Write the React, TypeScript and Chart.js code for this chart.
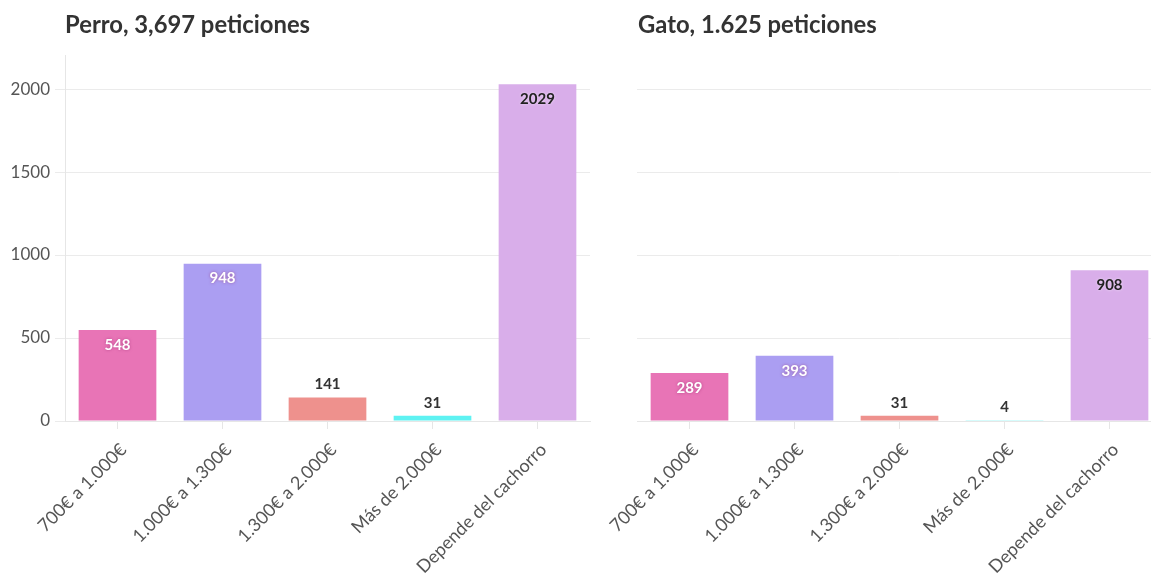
import React, { useEffect, useRef } from "react";
import { Chart, registerables } from "chart.js";

Chart.register(...registerables);

const categories = ["700€ a 1.000€", "1.000€ a 1.300€", "1.300€ a 2.000€", "Más de 2.000€", "Depende del cachorro"];
const perroValues = [548, 948, 141, 31, 2029];
const gatoValues = [289, 393, 31, 4, 908];
const perroTitle = "Perro, 3,697 peticiones";
const gatoTitle = "Gato, 1.625 peticiones";
const yTicks = [0, 500, 1000, 1500, 2000];

const barColors = ["#e874b6", "#ab9ef2", "#ee918d", "#5ef2f2", "#d9aeea"];
const insideLabelColors = ["#ffffff", "#ffffff", "#ffffff", "#ffffff", "#222222"];
const FONT = "Lato, 'Open Sans', sans-serif";

const labelPlugin = {
  id: "barLabels",
  afterDatasetsDraw(chart: any) {
    const ctx = chart.ctx;
    const meta = chart.getDatasetMeta(0);
    const data = chart.data.datasets[0].data as number[];
    const base = chart.scales.y.getPixelForValue(0);
    ctx.save();
    ctx.font = `bold 15px ${FONT}`;
    ctx.textAlign = "center";
    ctx.textBaseline = "middle";
    meta.data.forEach((el: any, i: number) => {
      const v = data[i];
      const h = base - el.y;
      let y: number;
      let color: string;
      if (h > 40) {
        y = el.y + 15;
        color = insideLabelColors[i];
        if (color === "#ffffff") {
          ctx.shadowColor = "rgba(150,40,110,0.6)";
        } else {
          ctx.shadowColor = "rgba(255,255,255,0.6)";
        }
      } else {
        y = el.y - 13;
        color = "#333333";
        ctx.shadowColor = "rgba(255,255,255,0.8)";
      }
      ctx.shadowBlur = 3;
      ctx.fillStyle = color;
      ctx.fillText(String(v), el.x, y);
    });
    ctx.restore();
  },
};

function makeConfig(values: number[], showY: boolean, leftW: number, rightPad: number): any {
  return {
    type: "bar",
    data: {
      labels: categories,
      datasets: [
        {
          data: values,
          backgroundColor: barColors,
          borderWidth: 0,
          barPercentage: 0.74,
          categoryPercentage: 1,
        },
      ],
    },
    plugins: [labelPlugin],
    options: {
      responsive: false,
      animation: false,
      devicePixelRatio: 1,
      layout: { padding: { top: 55, bottom: 0, left: 0, right: rightPad } },
      plugins: { legend: { display: false }, tooltip: { enabled: false }, title: { display: false } },
      scales: {
        x: {
          grid: { drawOnChartArea: false, drawTicks: true, tickLength: 8, color: "#e6e6e6", offset: false },
          border: { display: true, color: "#e6e6e6", width: 1 },
          ticks: {
            minRotation: 45,
            maxRotation: 45,
            color: "#555555",
            font: { family: FONT, size: 18 },
            padding: 10,
            labelOffset: 6,
          },
          afterFit(scale: any) {
            scale.height = 153;
          },
        },
        y: {
          min: 0,
          max: 2205,
          afterBuildTicks(scale: any) {
            scale.ticks = yTicks.map((v) => ({ value: v }));
          },
          grid: { color: "#ebebeb", drawTicks: showY, tickLength: 10, lineWidth: 1 },
          border: { display: showY, color: "#e6e6e6" },
          ticks: {
            display: showY,
            color: "#555555",
            font: { family: FONT, size: 17 },
            padding: 5,
            callback: (v: any) => String(v),
          },
          afterFit(scale: any) {
            scale.width = leftW;
          },
        },
      },
    },
  };
}

function BarChart({ values, showY, leftW, rightPad, width }: any) {
  const ref = useRef<HTMLCanvasElement | null>(null);
  useEffect(() => {
    if (!ref.current) return;
    const chart = new Chart(ref.current, makeConfig(values, showY, leftW, rightPad));
    return () => chart.destroy();
  }, []);
  return <canvas ref={ref} width={width} height={574} style={{ display: "block", width, height: 574 }} />;
}

const titleStyle: React.CSSProperties = {
  position: "absolute",
  top: 10,
  fontFamily: FONT,
  fontWeight: 700,
  fontSize: 23.8,
  color: "#333333",
  whiteSpace: "nowrap",
};

export default function App() {
  return (
    <div style={{ position: "fixed", left: 0, top: 0, width: 1151, height: 574, overflow: "hidden", background: "#fff" }}>
      <div style={{ position: "absolute", left: 0, top: 0 }}>
        <BarChart values={perroValues} showY={true} leftW={65} rightPad={10} width={600} />
      </div>
      <div style={{ position: "absolute", left: 540, top: 0 }}>
        <BarChart values={gatoValues} showY={false} leftW={97} rightPad={8} width={630} />
      </div>
      <div style={{ ...titleStyle, left: 65 }}>{perroTitle}</div>
      <div style={{ ...titleStyle, left: 638 }}>{gatoTitle}</div>
    </div>
  );
}
